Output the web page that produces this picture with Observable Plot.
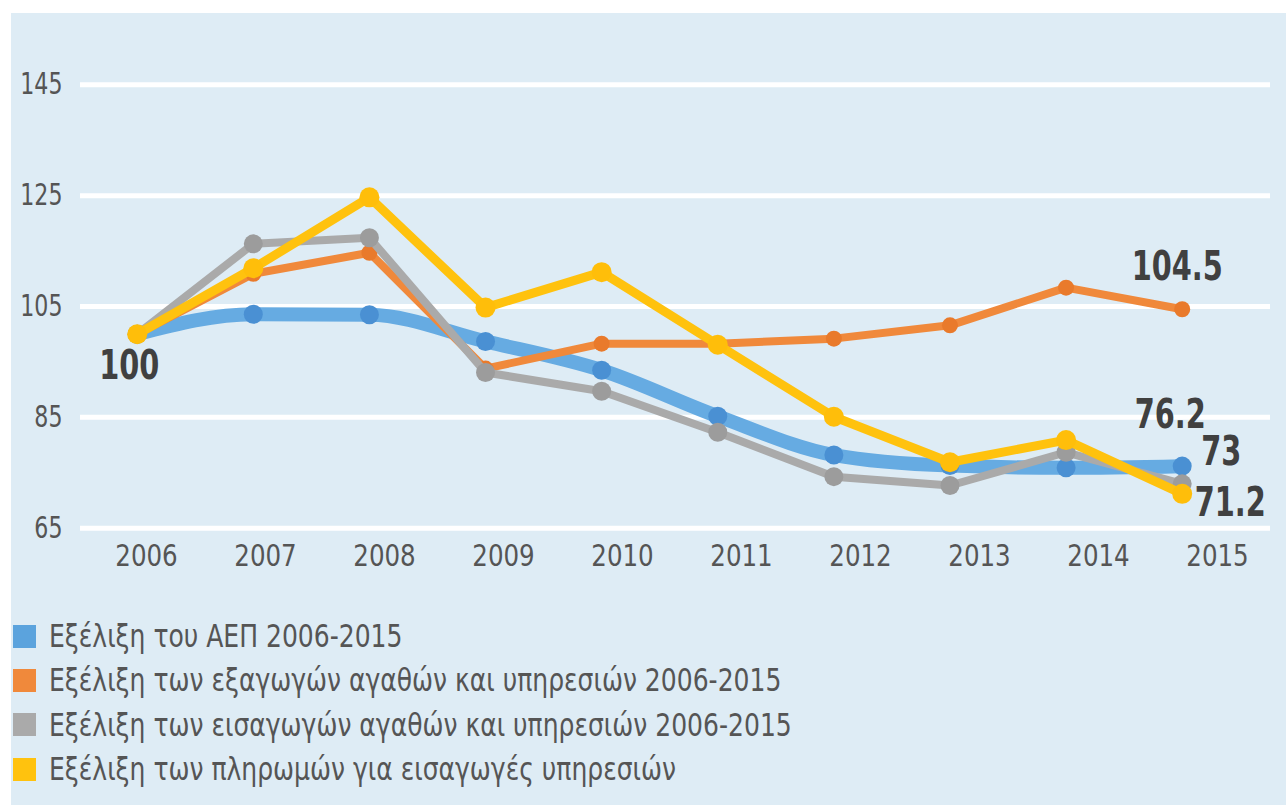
<!DOCTYPE html>
<html>
<head>
<meta charset="utf-8">
<script src="https://cdn.jsdelivr.net/npm/d3@7"></script>
<script src="https://cdn.jsdelivr.net/npm/@observablehq/plot@0.6"></script>
<style>
  html, body { margin: 0; padding: 0; background: #ffffff; }
  body { width: 1286px; height: 805px; position: relative; overflow: hidden; }
  #panel { position: absolute; left: 11px; top: 13px; right: 0; bottom: 0; background: #deecf5; }
  #chart, #xaxis { position: absolute; left: 0; top: 0; }
  #legend { position: absolute; left: 13px; top: 614px; font-family: "Liberation Sans Narrow", "DejaVu Sans Condensed", sans-serif; font-size: 32px; color: #555; }
  .row { display: flex; align-items: center; height: 44.3px; white-space: nowrap; }
  .sw { width: 23px; height: 23px; margin-right: 13px; flex: none; }
  .lt { display: inline-block; transform: scaleX(0.87); transform-origin: 0 50%; }
</style>
</head>
<body>
<div id="panel"></div>
<div id="chart"></div>
<div id="xaxis"></div>
<div id="legend"></div>
<script>
// ---- data ----
const years = [2006, 2007, 2008, 2009, 2010, 2011, 2012, 2013, 2014, 2015];
const gdp = [100, 103.6, 103.5, 98.7, 93.5, 85.2, 78.2, 76.3, 75.9, 76.2];
const exportsGoodsServices = [100, 110.9, 114.7, 93.8, 98.3, 98.3, 99.2, 101.6, 108.4, 104.5];
const importsGoodsServices = [100, 116.3, 117.4, 93.1, 89.7, 82.3, 74.3, 72.7, 78.7, 73];
const servicePayments = [100, 111.9, 124.7, 104.8, 111.2, 98.1, 85.1, 76.9, 80.9, 71.2];
const seriesNames = [
  "Εξέλιξη του ΑΕΠ 2006-2015",
  "Εξέλιξη των εξαγωγών αγαθών και υπηρεσιών 2006-2015",
  "Εξέλιξη των εισαγωγών αγαθών και υπηρεσιών 2006-2015",
  "Εξέλιξη των πληρωμών για εισαγωγές υπηρεσιών"
];
const yTicks = [65, 85, 105, 125, 145];
const valueLabels = ["100", "104.5", "76.2", "73", "71.2"];

// ---- styles ----
const FONT = '"Liberation Sans Narrow", "DejaVu Sans Condensed", sans-serif';
const seriesStyle = [
  {values: gdp, line: "#66abe2", dot: "#4a90d3", swatch: "#5ba3dd", w: 14, r: 9.5, curve: "monotone-x"},
  {values: exportsGoodsServices, line: "#f0893b", dot: "#e97a2b", swatch: "#f0893b", w: 8, r: 8, curve: "linear"},
  {values: importsGoodsServices, line: "#aaaaaa", dot: "#9c9c9c", swatch: "#aaaaaa", w: 8, r: 9.5, curve: "linear"},
  {values: servicePayments, line: "#ffc20e", dot: "#ffbe0a", swatch: "#ffc20e", w: 9, r: 10, curve: "linear"}
];

const W = 1286, H = 600, MT = 84.3, MB = 72.3;

const marks = [
  Plot.ruleY(yTicks, {stroke: "#ffffff", strokeWidth: 5}),
  Plot.axisY(yTicks, {tickSize: 0, tickPadding: 18, fontSize: 30, fill: "#555", label: null, tickFormat: d => String(d)})
];
seriesStyle.forEach(s => {
  const rows = years.map((yr, i) => ({year: yr, value: s.values[i]}));
  marks.push(Plot.line(rows, {x: "year", y: "value", stroke: s.line, strokeWidth: s.w, curve: s.curve, strokeLinejoin: "round"}));
  marks.push(Plot.dot(rows, {x: "year", y: "value", fill: s.dot, r: s.r}));
});

// value labels anchored to data points
const labelAnchors = [
  {vals: gdp, i: 0, dx: -8, dy: 32},
  {vals: exportsGoodsServices, i: 9, dx: -5, dy: -42},
  {vals: gdp, i: 9, dx: -12, dy: -51},
  {vals: importsGoodsServices, i: 9, dx: 39, dy: -32},
  {vals: servicePayments, i: 9, dx: 48, dy: 9}
];
labelAnchors.forEach((a, k) => {
  marks.push(Plot.text([{year: years[a.i], value: a.vals[a.i], label: valueLabels[k]}], {
    x: "year", y: "value", text: "label", dx: a.dx, dy: a.dy,
    fontSize: 40, fontWeight: "bold", fill: "#404040", className: "vlabel"
  }));
});

const chart = Plot.plot({
  width: W, height: H,
  marginLeft: 80, marginRight: 16, marginTop: MT, marginBottom: MB,
  style: {background: "transparent", fontFamily: FONT},
  x: {type: "linear", domain: [2006, 2015], range: [136.7, 1181.7], axis: null},
  y: {domain: [65, 145], axis: null, label: null},
  marks
});
document.getElementById("chart").appendChild(chart);

// x axis (labels sit on their own slightly wider spacing in the original)
const xaxis = Plot.plot({
  width: W, height: H,
  marginLeft: 0, marginRight: 0, marginTop: MT, marginBottom: MB,
  style: {background: "transparent", fontFamily: FONT},
  x: {type: "linear", domain: [2006, 2015], range: [146, 1217], label: null},
  marks: [Plot.axisX(years, {tickSize: 0, tickPadding: 16, fontSize: 31, fill: "#555", label: null, tickFormat: d => String(d)})]
});
document.getElementById("xaxis").appendChild(xaxis);

// narrow the glyphs horizontally to mimic the condensed original typeface
function squeeze(root, selector, k) {
  d3.select(root).selectAll(selector).each(function () {
    const t = this.getAttribute("transform") || "";
    this.setAttribute("transform", (t + " scale(" + k + ",1)").trim());
  });
}
squeeze(chart, "g[aria-label='y-axis tick label'] text", 0.82);
squeeze(xaxis, "g[aria-label='x-axis tick label'] text", 0.88);
squeeze(chart, "g[aria-label='text'] text", 0.8);

// legend
const legend = document.getElementById("legend");
seriesNames.forEach((name, i) => {
  const row = document.createElement("div");
  row.className = "row";
  const sw = document.createElement("span");
  sw.className = "sw";
  sw.style.background = seriesStyle[i].swatch;
  const t = document.createElement("span");
  t.className = "lt";
  t.textContent = name;
  row.appendChild(sw);
  row.appendChild(t);
  legend.appendChild(row);
});
</script>
</body>
</html>
